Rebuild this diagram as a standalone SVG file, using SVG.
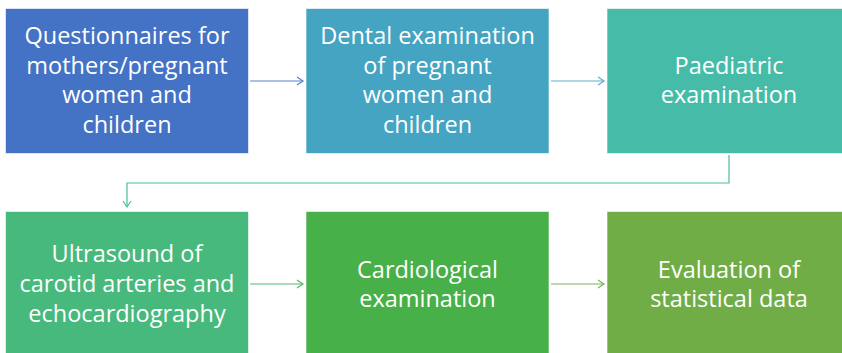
<svg xmlns="http://www.w3.org/2000/svg" width="842" height="353" viewBox="0 0 842 353">
  <style>
    .box { stroke: #ffffff; stroke-opacity: 0.6; stroke-width: 1; }
    .lbl { font-family: "Open Sans", "Liberation Sans", sans-serif; font-size: 23.5px; fill: #ffffff; text-anchor: middle; }
    .con { fill: none; stroke-width: 1.2; }
  </style>
  <defs>
    <marker id="a1" markerWidth="10" markerHeight="10" refX="7" refY="5" orient="auto" markerUnits="userSpaceOnUse">
      <polyline points="1,1 7,5 1,9" fill="none" stroke="#5a82cc" stroke-width="1.2"/>
    </marker>
    <marker id="a2" markerWidth="10" markerHeight="10" refX="7" refY="5" orient="auto" markerUnits="userSpaceOnUse">
      <polyline points="1,1 7,5 1,9" fill="none" stroke="#5ab0cc" stroke-width="1.2"/>
    </marker>
    <marker id="a3" markerWidth="10" markerHeight="10" refX="7" refY="5" orient="auto" markerUnits="userSpaceOnUse">
      <polyline points="1,1 7,5 1,9" fill="none" stroke="#4fbf93" stroke-width="1.2"/>
    </marker>
    <marker id="a4" markerWidth="10" markerHeight="10" refX="7" refY="5" orient="auto" markerUnits="userSpaceOnUse">
      <polyline points="1,1 7,5 1,9" fill="none" stroke="#55b86a" stroke-width="1.2"/>
    </marker>
    <marker id="a5" markerWidth="10" markerHeight="10" refX="7" refY="5" orient="auto" markerUnits="userSpaceOnUse">
      <polyline points="1,1 7,5 1,9" fill="none" stroke="#79b45a" stroke-width="1.2"/>
    </marker>
  </defs>

  <g id="connectors">
    <path class="con" stroke="#5a82cc" d="M250,81 H303" marker-end="url(#a1)"/>
    <path class="con" stroke="#5ab0cc" d="M551,81 H604" marker-end="url(#a2)"/>
    <path class="con" stroke="#4fbf93" d="M729,155 V183 H127 V207" marker-end="url(#a3)"/>
    <path class="con" stroke="#55b86a" d="M250,284 H303" marker-end="url(#a4)"/>
    <path class="con" stroke="#79b45a" d="M551,284 H604" marker-end="url(#a5)"/>
  </g>

  <g id="node1">
    <rect class="box" x="5.5" y="8.5" width="243" height="145" fill="#4472c4"/>
    <text class="lbl" x="127" y="44">Questionnaires for</text>
    <text class="lbl" x="127" y="74">mothers/pregnant</text>
    <text class="lbl" x="127" y="103">women and</text>
    <text class="lbl" x="127" y="133">children</text>
  </g>
  <g id="node2">
    <rect class="box" x="306" y="8.5" width="243" height="145" fill="#45a4c2"/>
    <text class="lbl" x="427.5" y="44">Dental examination</text>
    <text class="lbl" x="427.5" y="74">of pregnant</text>
    <text class="lbl" x="427.5" y="103">women and</text>
    <text class="lbl" x="427.5" y="133">children</text>
  </g>
  <g id="node3">
    <rect class="box" x="607" y="8.5" width="243" height="145" fill="#46bca8"/>
    <text class="lbl" x="729" y="74">Paediatric</text>
    <text class="lbl" x="729" y="103">examination</text>
  </g>
  <g id="node4">
    <rect class="box" x="5.5" y="211.5" width="243" height="145" fill="#48b97c"/>
    <text class="lbl" x="127" y="262">Ultrasound of</text>
    <text class="lbl" x="127" y="292">carotid arteries and</text>
    <text class="lbl" x="127" y="322">echocardiography</text>
  </g>
  <g id="node5">
    <rect class="box" x="306" y="211.5" width="243" height="145" fill="#48b048"/>
    <text class="lbl" x="427.5" y="278">Cardiological</text>
    <text class="lbl" x="427.5" y="307">examination</text>
  </g>
  <g id="node6">
    <rect class="box" x="607" y="211.5" width="243" height="145" fill="#70ad47"/>
    <text class="lbl" x="729" y="278">Evaluation of</text>
    <text class="lbl" x="729" y="307">statistical data</text>
  </g>
</svg>
